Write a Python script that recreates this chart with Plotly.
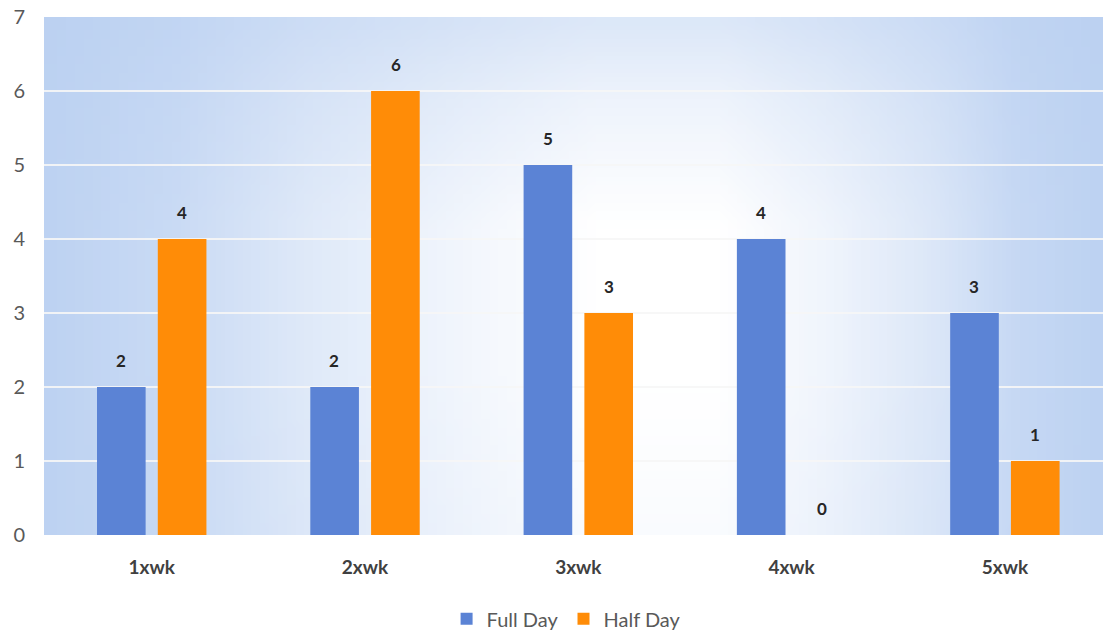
import base64
import struct
import zlib

import numpy as np
import plotly.graph_objects as go

# ---- chart data ----
categories = ["1xwk", "2xwk", "3xwk", "4xwk", "5xwk"]
full_day = [2, 2, 5, 4, 3]
half_day = [4, 6, 3, 0, 1]
y_ticks = [0, 1, 2, 3, 4, 5, 6, 7]

BLUE = "#5b83d5"
ORANGE = "#ff8c07"
TICK_GREY = "#595959"
LABEL_DARK = "#404040"
FONT = "Lato, 'Open Sans', sans-serif"


def png_data_uri(pixels):
    """Encode an (h, w, 3) uint8 array as a PNG data URI."""
    h, w, _ = pixels.shape
    raw = b"".join(b"\x00" + pixels[r].tobytes() for r in range(h))

    def chunk(tag, data):
        body = tag + data
        return struct.pack(">I", len(data)) + body + struct.pack(">I", zlib.crc32(body) & 0xFFFFFFFF)

    png = (b"\x89PNG\r\n\x1a\n"
           + chunk(b"IHDR", struct.pack(">IIBBBBB", w, h, 8, 2, 0, 0, 0))
           + chunk(b"IDAT", zlib.compress(raw, 9))
           + chunk(b"IEND", b""))
    return "data:image/png;base64," + base64.b64encode(png).decode()


def backdrop():
    """Soft blue-to-white wash behind the plot area."""
    w, h = 120, 60
    xs = np.linspace(0, 1, w)
    ys = np.linspace(0, 1, h)
    # lightness across the width and down the height
    lx = np.interp(xs, [0.0, 0.12, 0.25, 0.40, 0.52, 0.64, 0.74, 0.84, 0.92, 1.0],
                   [0.05, 0.22, 0.55, 0.82, 1.0, 1.0, 0.78, 0.5, 0.18, 0.05])
    ly = np.interp(ys, [0.0, 0.15, 0.4, 0.7, 1.0], [0.5, 0.75, 1.0, 1.0, 0.92])
    light = np.clip(np.outer(ly, lx), 0, 1)[..., None]
    base = np.array([186, 208, 241], dtype=float)
    white = np.array([255, 255, 255], dtype=float)
    img = base * (1 - light) + white * light
    return png_data_uri(img.round().astype(np.uint8))


fig = go.Figure()
fig.add_trace(go.Bar(name="Full Day", x=categories, y=full_day,
                     marker=dict(color=BLUE, line=dict(width=0))))
fig.add_trace(go.Bar(name="Half Day", x=categories, y=half_day,
                     marker=dict(color=ORANGE, line=dict(width=0))))

# value labels above each bar
group_offset = 0.1435
for i, cat in enumerate(categories):
    for vals, dx in ((full_day, -group_offset), (half_day, group_offset)):
        fig.add_annotation(x=i + dx, y=vals[i], text=str(vals[i]), showarrow=False,
                           xref="x", yref="y", yanchor="bottom", yshift=14,
                           font=dict(family=FONT, size=17, color="#262626", weight="bold"))

fig.add_layout_image(dict(source=backdrop(), xref="paper", yref="paper",
                          x=0, y=1, sizex=1, sizey=1, xanchor="left", yanchor="top",
                          sizing="stretch", layer="below"))

fig.update_layout(
    width=1103, height=632,
    margin=dict(l=44, r=0, t=17, b=97, autoexpand=False),
    paper_bgcolor="white",
    plot_bgcolor="rgba(0,0,0,0)",
    barmode="group",
    bargap=0.43,
    bargroupgap=0.2,
    font=dict(family=FONT, color=TICK_GREY),
    showlegend=True,
    legend=dict(orientation="h", x=0.493, xanchor="center",
                yref="container", y=0.021, yanchor="middle",
                font=dict(family=FONT, size=20, color=TICK_GREY),
                itemwidth=30, traceorder="normal"),
)

fig.update_xaxes(
    type="category", range=[-0.505, 4.46], showgrid=False, zeroline=False,
    showline=False, ticks="", ticklabelstandoff=19,
    tickfont=dict(family=FONT, size=19, color=LABEL_DARK, weight="bold"),
)
fig.update_yaxes(
    range=[0, 7], tickvals=y_ticks, showgrid=True,
    gridcolor="rgba(246,246,246,0.9)", gridwidth=1.5,
    zeroline=False, showline=False, ticks="", ticklabelstandoff=18,
    tickfont=dict(family=FONT, size=20, color=TICK_GREY),
)

fig.write_html("out.html")
